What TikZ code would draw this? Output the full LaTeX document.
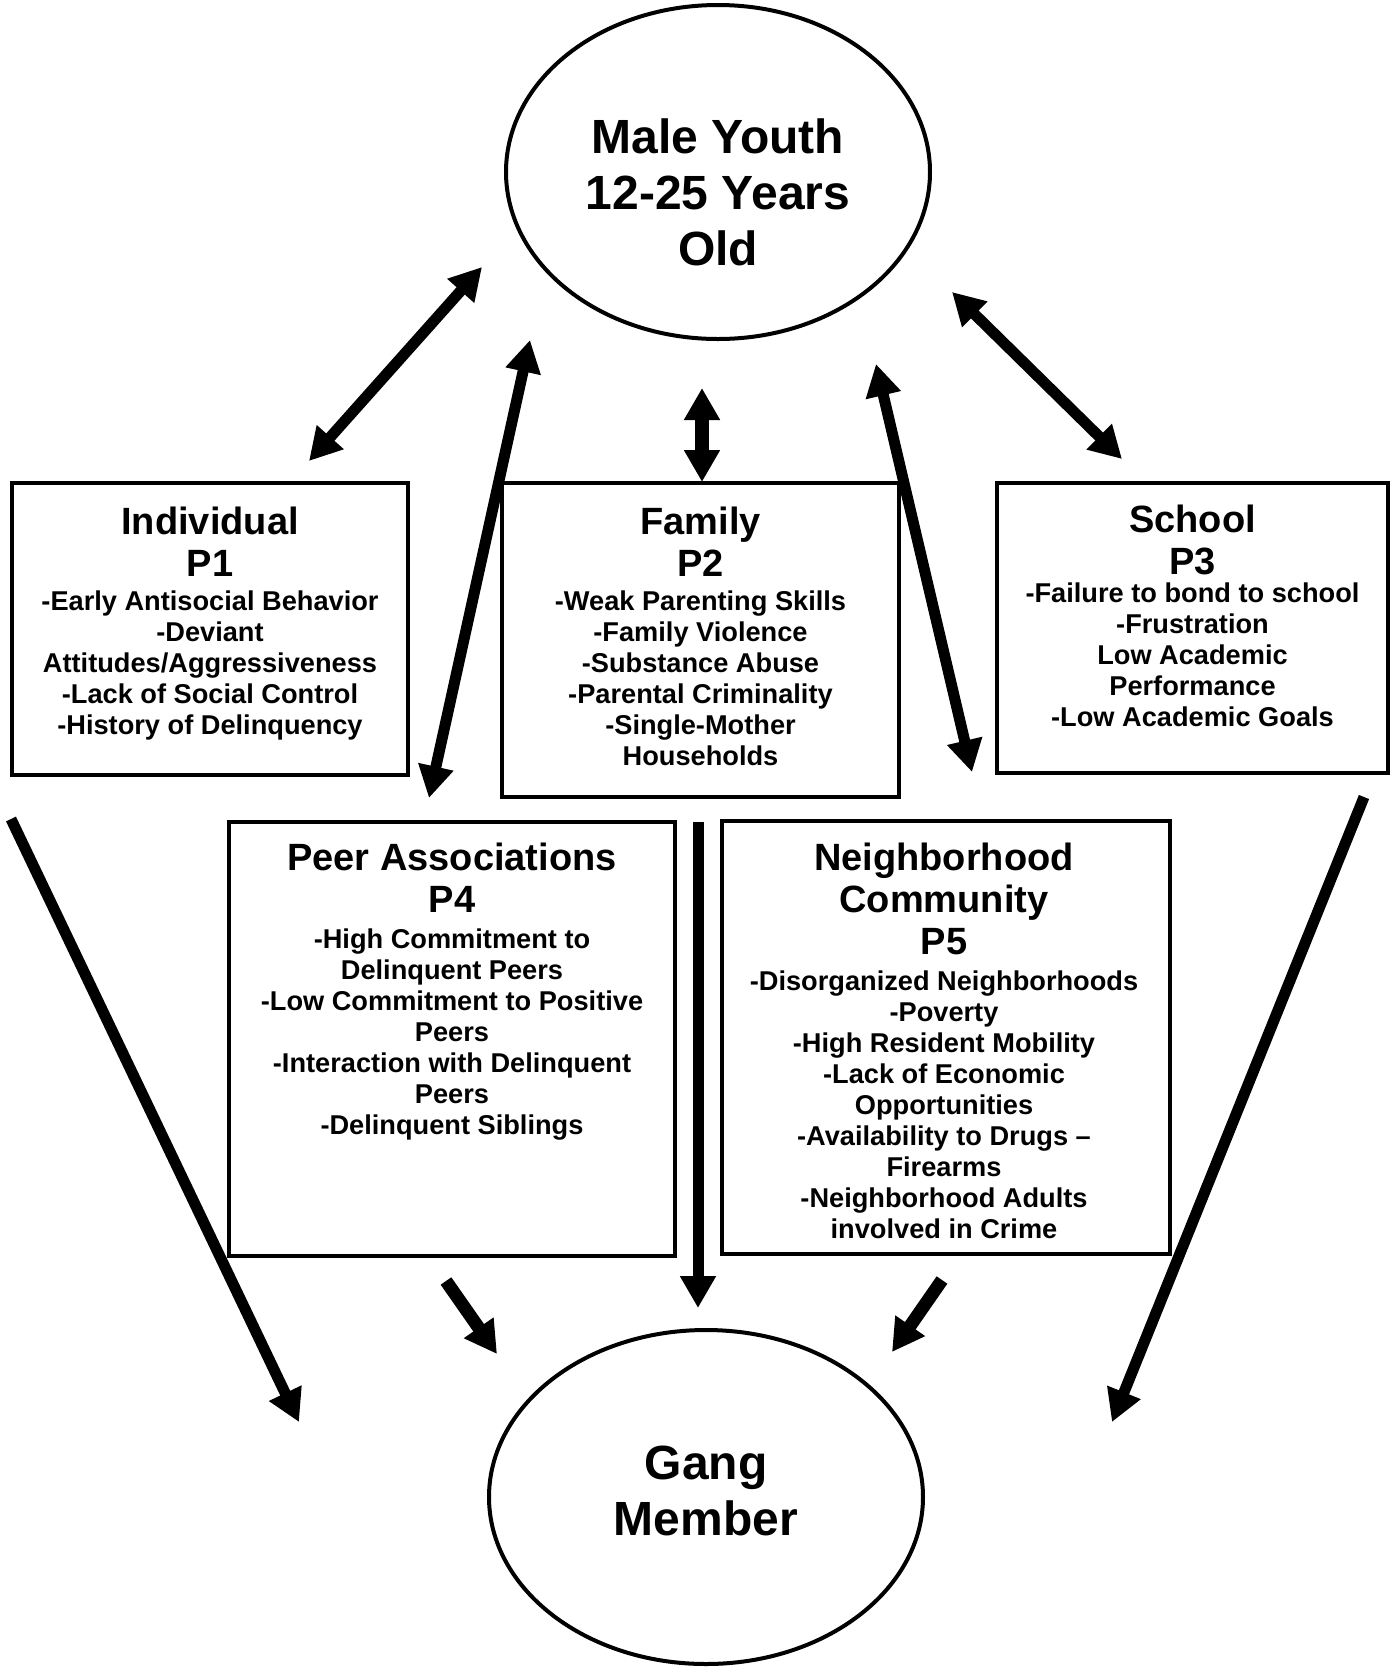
\documentclass[tikz,border=0pt]{standalone}
\usepackage{fontspec}
\setmainfont{Liberation Sans}
\usetikzlibrary{shapes.geometric,arrows.meta}

\begin{document}
\begin{tikzpicture}[
    x=0.5pt, y=-0.5pt,
    oval/.style={ellipse, draw=black, line width=2pt, inner sep=0pt},
    factor/.style={rectangle, draw=black, line width=2.2pt, inner sep=0pt},
    big/.style={align=center, anchor=north, inner sep=0pt, font=\fontsize{24}{28}\selectfont\bfseries},
    head/.style={align=center, anchor=north, inner sep=0pt, font=\fontsize{19}{21}\selectfont\bfseries},
    items/.style={align=center, anchor=north, inner sep=0pt, font=\fontsize{13.6}{15.5}\selectfont\bfseries},
    link/.style={{Triangle[length=16pt,width=17pt]}-{Triangle[length=16pt,width=17pt]}, line width=5.5pt},
    flow/.style={-{Triangle[length=16pt,width=17pt]}, line width=5.5pt}
]
\useasboundingbox (0,0) rectangle (1397,1667);

\node[oval, minimum width=212pt, minimum height=167pt] (youth) at (718,172) {};
\node[big] (youthtxt) at (718,118) {Male Youth\\12-25 Years\\Old};

\node[oval, minimum width=217pt, minimum height=167pt] (gang) at (706,1497) {};
\node[big] (gangtxt) at (706,1446) {Gang\\Member};

\node[factor, minimum width=198pt, minimum height=146pt] (p1) at (210,629) {};
\node[factor, minimum width=198.5pt, minimum height=157pt] (p2) at (700.5,640) {};
\node[factor, minimum width=195.5pt, minimum height=145pt] (p3) at (1192.5,628) {};
\node[factor, minimum width=223pt, minimum height=217pt] (p4) at (452,1039) {};
\node[factor, minimum width=224pt, minimum height=216.5pt] (p5) at (946,1037.5) {};

\node[head] (p1head) at (210,507) {Individual\\P1};
\node[items] (p1items) at (210,590) {-Early Antisocial Behavior\\-Deviant\\Attitudes/Aggressiveness\\-Lack of Social Control\\-History of Delinquency};

\node[head] (p2head) at (700.5,507) {Family\\P2};
\node[items] (p2items) at (700.5,590) {-Weak Parenting Skills\\-Family Violence\\-Substance Abuse\\-Parental Criminality\\-Single-Mother\\Households};

\node[head] (p3head) at (1192.5,505) {School\\P3};
\node[items] (p3items) at (1192.5,582) {-Failure to bond to school\\-Frustration\\Low Academic\\Performance\\-Low Academic Goals};

\node[head] (p4head) at (452,843) {Peer Associations\\P4};
\node[items] (p4items) at (452,928) {-High Commitment to\\Delinquent Peers\\-Low Commitment to Positive\\Peers\\-Interaction with Delinquent\\Peers\\-Delinquent Siblings};

\node[head] (p5head) at (944,843) {Neighborhood\\Community\\P5};
\node[items] (p5items) at (944,970) {-Disorganized Neighborhoods\\-Poverty\\-High Resident Mobility\\-Lack of Economic\\Opportunities\\-Availability to Drugs \textendash\\Firearms\\-Neighborhood Adults\\involved in Crime};

\coordinate (indA) at (482,267);
\coordinate (indB) at (309,461);
\coordinate (peerA) at (530,340);
\coordinate (peerB) at (429,798);
\coordinate (famA) at (702,388);
\coordinate (famB) at (702,482);
\coordinate (nbhA) at (876,364);
\coordinate (nbhB) at (972,772);
\coordinate (schA) at (952,292);
\coordinate (schB) at (1122,459);

\coordinate (leftA) at (11,819);
\coordinate (leftB) at (299,1422);
\coordinate (rightA) at (1364,797);
\coordinate (rightB) at (1112,1422);
\coordinate (midA) at (698,822);
\coordinate (midB) at (698,1308);
\coordinate (peerC) at (446,1281);
\coordinate (peerD) at (497,1354);
\coordinate (nbhC) at (942,1280);
\coordinate (nbhD) at (892,1352);

\draw (indA) edge[link] (indB);
\draw (peerA) edge[link] (peerB);
\draw (famA) edge[link, line width=7pt] (famB);
\draw (nbhA) edge[link] (nbhB);
\draw (schA) edge[link] (schB);

\draw (leftA) edge[flow] (leftB);
\draw (rightA) edge[flow] (rightB);
\draw (midA) edge[flow] (midB);
\draw (peerC) edge[flow, line width=6.5pt] (peerD);
\draw (nbhC) edge[flow, line width=6.5pt] (nbhD);

\end{tikzpicture}
\end{document}
